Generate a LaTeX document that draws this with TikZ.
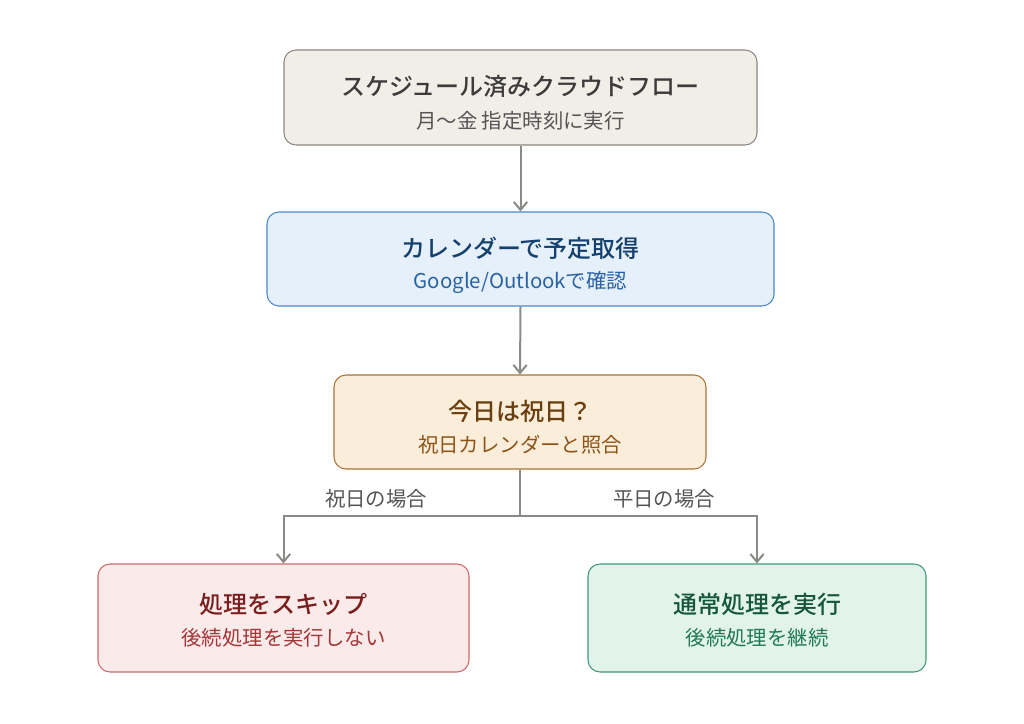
\documentclass[tikz,border=0pt]{standalone}
\usepackage{fontspec}
\setmainfont{Noto Sans CJK JP}[BoldFont={Noto Sans CJK JP Medium}]
\usetikzlibrary{arrows.meta}
\definecolor{topfill}{HTML}{F1EEE8}\definecolor{topdraw}{HTML}{8C8880}
\definecolor{toptitle}{HTML}{3C3C3C}\definecolor{topsub}{HTML}{555555}
\definecolor{bluefill}{HTML}{E5F0FB}\definecolor{bluedraw}{HTML}{4A88C7}
\definecolor{bluetitle}{HTML}{15416E}\definecolor{bluesub}{HTML}{2A63A5}
\definecolor{orfill}{HTML}{FAEDDA}\definecolor{ordraw}{HTML}{A87538}
\definecolor{ortitle}{HTML}{6B3E0E}\definecolor{orsub}{HTML}{8C5519}
\definecolor{redfill}{HTML}{FBEAEA}\definecolor{reddraw}{HTML}{CC6A6A}
\definecolor{redtitle}{HTML}{7A1E1E}\definecolor{redsub}{HTML}{A33636}
\definecolor{grfill}{HTML}{E2F3EC}\definecolor{grdraw}{HTML}{3F9878}
\definecolor{grtitle}{HTML}{15573A}\definecolor{grsub}{HTML}{217A55}
\definecolor{conn}{HTML}{8A8A86}\definecolor{lbl}{HTML}{555555}
\tikzset{
  box/.style={draw, rounded corners=9pt, line width=0.8pt, inner sep=0pt},
  ttl/.style={inner sep=0pt, font=\fontsize{18pt}{21pt}\selectfont\bfseries},
  sbt/.style={inner sep=0pt, font=\fontsize{15.3pt}{18pt}\selectfont},
  conn/.style={draw=conn, line width=1.5pt, -{Straight Barb[length=6pt,width=10pt,line width=1.5pt]}},
  brl/.style={inner sep=0pt, text=lbl, font=\fontsize{15.3pt}{18pt}\selectfont}
}
\begin{document}
\begin{tikzpicture}[x=0.75pt,y=-0.75pt]
\useasboundingbox (0,0) rectangle (1024,724);
\fill[white] (0,0) rectangle (1024,724);
% boxes
\node[box, fill=topfill, draw=topdraw, minimum width=473*0.75pt, minimum height=95*0.75pt] (top) at (520.5,97.5) {};
\node[box, fill=bluefill, draw=bluedraw, minimum width=507*0.75pt, minimum height=94*0.75pt] (cal) at (520.5,259) {};
\node[box, fill=orfill, draw=ordraw, minimum width=372*0.75pt, minimum height=94*0.75pt] (dec) at (520,422) {};
\node[box, fill=redfill, draw=reddraw, minimum width=371*0.75pt, minimum height=108*0.75pt] (skip) at (283.5,618) {};
\node[box, fill=grfill, draw=grdraw, minimum width=338*0.75pt, minimum height=108*0.75pt] (norm) at (757,618) {};
% texts
\node[ttl, text=toptitle] (topt) at (520.5,86) {スケジュール済みクラウドフロー};
\node[sbt, text=topsub] (tops) at (520.5,120.5) {月〜金 指定時刻に実行};
\node[ttl, text=bluetitle] (calt) at (520.5,248) {カレンダーで予定取得};
\node[sbt, text=bluesub] (cals) at (520.5,282.5) {Google/Outlookで確認};
\node[ttl, text=ortitle] (dect) at (520,411) {今日は祝日？};
\node[sbt, text=orsub] (decs) at (520,444.5) {祝日カレンダーと照合};
\node[ttl, text=redtitle] (skipt) at (283.5,604) {処理をスキップ};
\node[sbt, text=redsub] (skips) at (283.5,637.5) {後続処理を実行しない};
\node[ttl, text=grtitle] (normt) at (757,604) {通常処理を実行};
\node[sbt, text=grsub] (norms) at (757,637.5) {後続処理を継続};
% connectors
\path[conn] (top.south) -- (cal.north);
\path[conn] (cal.south) -- (dec.north);
\coordinate (j) at (520,516);
\draw[conn, -] (dec.south) -- (j);
\path[conn] (j) -| (skip.north);
\path[conn] (j) -| (norm.north);
\node[brl] (lh) at (376,499) {祝日の場合};
\node[brl] (lw) at (664,499) {平日の場合};
\end{tikzpicture}
\end{document}
